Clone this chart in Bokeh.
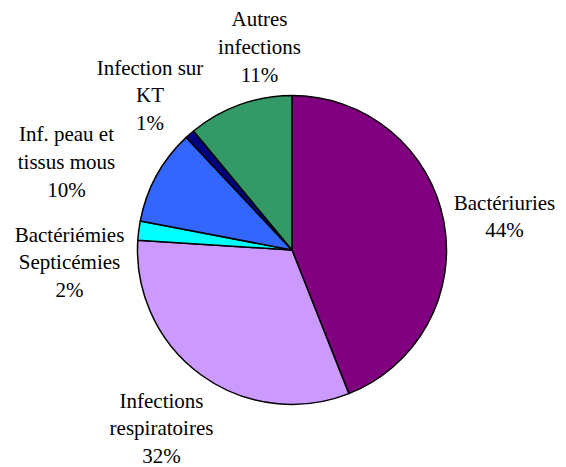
import numpy as np
from bokeh.plotting import figure
from bokeh.models import ColumnDataSource, Range1d
from bokeh.embed import file_html
from bokeh.resources import INLINE
from bokeh.core.properties import value

# ---- data (clockwise from 12 o'clock) ----
categories = ["Bactériuries", "Infections\nrespiratoires", "Bactériémies\nSepticémies",
              "Inf. peau et\ntissus mous", "Infection sur\nKT", "Autres\ninfections"]
percent = [44, 32, 2, 10, 1, 11]
colors = ["#800080", "#CC99FF", "#00FFFF", "#3366FF", "#000080", "#339966"]

# ---- layout (page pixel coordinates of each label's first baseline) ----
label_anchor = [(504, 210), (161, 408), (69, 242), (66, 141.5), (149.5, 75), (259, 26.5)]
LINE_STEP = 27.8
TEXT_SHIFT = -8.0   # renderer places 'alphabetic' text ~8px low
PIE_CX, PIE_CY, PIE_R = 291.5, 249.5, 154.5

W, H = 566, 467

def to_data(px, py):
    return px, H - py

p = figure(width=W, height=H, x_range=Range1d(0, W), y_range=Range1d(0, H),
           output_backend="svg", toolbar_location=None, min_border=0,
           x_axis_type=None, y_axis_type=None)
p.grid.visible = False
p.outline_line_color = None
p.background_fill_color = "white"
p.border_fill_color = "white"

frac = np.array(percent, dtype=float) / sum(percent)
cum = np.concatenate([[0.0], np.cumsum(frac)])
start = np.pi / 2 - cum[:-1] * 2 * np.pi
end = np.pi / 2 - cum[1:] * 2 * np.pi

cx, cy = to_data(PIE_CX, PIE_CY)
src = ColumnDataSource(dict(start=start, end=end, color=colors))
p.wedge(x=cx, y=cy, radius=PIE_R, start_angle="start", end_angle="end",
        direction="clock", fill_color="color", line_color="black", line_width=1.5,
        source=src)

xs, ys, texts = [], [], []
for cat, v, (ax, ay) in zip(categories, percent, label_anchor):
    lines = cat.split("\n") + [f"{v}%"]
    for i, t in enumerate(lines):
        dx, dy = to_data(ax, ay + i * LINE_STEP + TEXT_SHIFT)
        xs.append(dx)
        ys.append(dy)
        texts.append(t)

p.text(x=xs, y=ys, text=texts, text_font=value("Liberation Serif"),
       text_font_size="21px", text_align="center", text_baseline="alphabetic",
       text_color="black")

open("out.html", "w").write(file_html(p, INLINE))
